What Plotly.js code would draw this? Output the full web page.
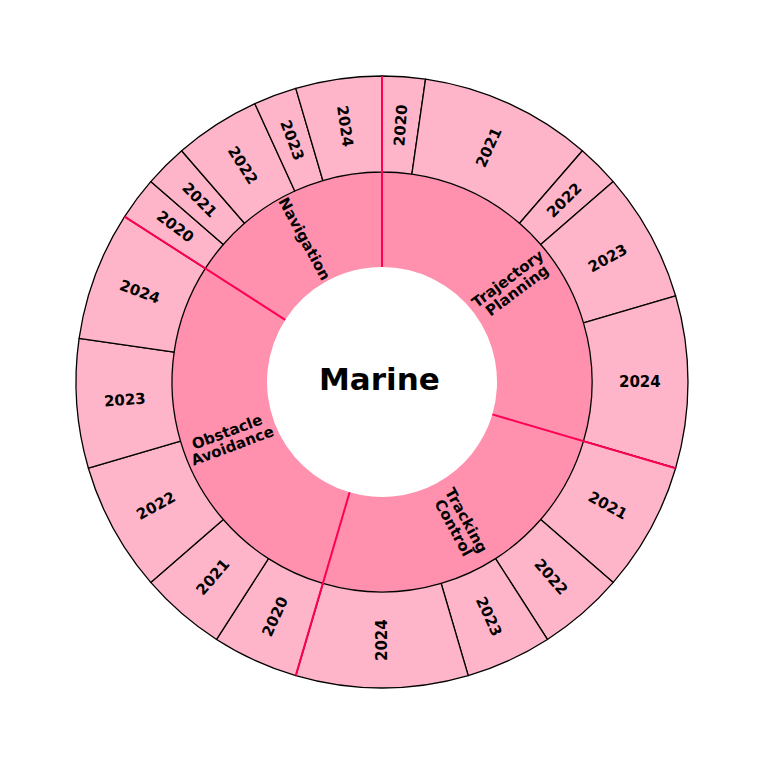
<!DOCTYPE html>
<html>
<head>
<meta charset="utf-8">
<script src="https://cdn.plot.ly/plotly-3.0.1.min.js"></script>
<style>html,body{margin:0;padding:0;background:#ffffff;}</style>
</head>
<body>
<div id="chart" style="width:761px;height:764px;"></div>
<script>
// ---------------- data ----------------
const rootLabel = 'Marine';
const categories = ['Trajectory Planning', 'Tracking Control', 'Obstacle Avoidance', 'Navigation'];
const categoryLines = [['Trajectory', 'Planning'], ['Tracking', 'Control'], ['Obstacle', 'Avoidance'], ['Navigation']];

const trajectoryYears = ['2020', '2021', '2022', '2023', '2024'];
const trajectoryCounts = [1, 4, 1, 3, 4];
const trackingYears = ['2021', '2022', '2023', '2024'];
const trackingCounts = [3, 2, 2, 4];
const obstacleYears = ['2020', '2021', '2022', '2023', '2024'];
const obstacleCounts = [2, 2, 3, 3, 3];
const navigationYears = ['2020', '2021', '2022', '2023', '2024'];
const navigationCounts = [1, 1, 2, 1, 2];

// ---------------- styles ----------------
const innerColor = '#FF91AF';
const outerColor = '#FFB5C9';
const separatorColor = '#FF0055';
const R_HOLE = 115, R_MID = 210, R_OUT = 306;
const fontFamily = 'DejaVu Sans';
const labelSize = 15;
const lineGap = 15;

// ---------------- build ----------------
const yearGroups = [
  [trajectoryYears, trajectoryCounts],
  [trackingYears, trackingCounts],
  [obstacleYears, obstacleCounts],
  [navigationYears, navigationCounts]
];
const categoryTotals = yearGroups.map(g => g[1].reduce((a, b) => a + b, 0));
const grandTotal = categoryTotals.reduce((a, b) => a + b, 0);

const outerLabels = [], outerValues = [], outerText = [];
yearGroups.forEach((g, i) => {
  g[0].forEach((y, j) => {
    outerLabels.push(categories[i] + ' ' + y);
    outerValues.push(g[1][j]);
    outerText.push(y);
  });
});

const midFrac = R_MID / R_OUT;
const innerPie = {
  type: 'pie',
  labels: categories,
  values: categoryTotals,
  textinfo: 'none',
  sort: false,
  direction: 'clockwise',
  rotation: 0,
  hole: R_HOLE / R_MID,
  marker: {colors: categories.map(() => innerColor), line: {width: 0}},
  domain: {x: [0.5 - midFrac / 2, 0.5 + midFrac / 2], y: [0.5 - midFrac / 2, 0.5 + midFrac / 2]},
  hoverinfo: 'none',
  showlegend: false
};

const outerPie = {
  type: 'pie',
  labels: outerLabels,
  values: outerValues,
  textinfo: 'none',
  sort: false,
  direction: 'clockwise',
  rotation: 0,
  hole: R_MID / R_OUT,
  marker: {colors: outerLabels.map(() => outerColor), line: {color: '#000000', width: 1.3}},
  domain: {x: [0, 1], y: [0, 1]},
  hoverinfo: 'none',
  showlegend: false
};

// helpers: paper position at radius (px) and clockwise-from-top angle (deg)
function paperPos(rPx, deg) {
  const t = deg * Math.PI / 180;
  return [0.5 + 0.5 * (rPx / R_OUT) * Math.sin(t), 0.5 + 0.5 * (rPx / R_OUT) * Math.cos(t)];
}
function radialAngle(deg) { return ((deg + 720) % 180) - 90; }

const annotations = [];
const labelFont = {family: fontFamily, size: labelSize, color: '#000000', weight: 'bold'};

// inner (category) labels
let cum = 0;
categoryTotals.forEach((t, i) => {
  const mid = (cum + t / 2) / grandTotal * 360;
  const [x, y] = paperPos((R_HOLE + R_MID) / 2, mid);
  const ang = radialAngle(mid);
  const a = ang * Math.PI / 180;
  const lines = categoryLines[i];
  lines.forEach((ln, k) => {
    const off = (k - (lines.length - 1) / 2) * lineGap;
    annotations.push({
      xref: 'paper', yref: 'paper', x: x, y: y, text: ln, showarrow: false,
      xanchor: 'center', yanchor: 'middle', textangle: ang,
      xshift: -Math.sin(a) * off, yshift: -Math.cos(a) * off,
      font: labelFont
    });
  });
  cum += t;
});

// outer (year) labels
cum = 0;
outerValues.forEach((v, i) => {
  const mid = (cum + v / 2) / grandTotal * 360;
  const [x, y] = paperPos((R_MID + R_OUT) / 2, mid);
  annotations.push({
    xref: 'paper', yref: 'paper', x: x, y: y, text: outerText[i], showarrow: false,
    xanchor: 'center', yanchor: 'middle', textangle: radialAngle(mid),
    font: labelFont
  });
  cum += v;
});

// root label
annotations.push({
  xref: 'paper', yref: 'paper', x: 0.5, y: 0.5, text: rootLabel, showarrow: false,
  xanchor: 'center', yanchor: 'middle', xshift: -3, yshift: 3,
  font: {family: fontFamily, size: 31, color: '#000000', weight: 'bold'}
});

// category separators at cumulative category boundaries
const shapes = [];
cum = 0;
categoryTotals.forEach(t => {
  const deg = cum / grandTotal * 360;
  const p0 = paperPos(R_HOLE, deg), p1 = paperPos(R_OUT, deg);
  shapes.push({
    type: 'line', xref: 'paper', yref: 'paper', layer: 'above',
    x0: p0[0], y0: p0[1], x1: p1[0], y1: p1[1],
    line: {color: separatorColor, width: 2}
  });
  cum += t;
});

const layout = {
  width: 761, height: 764,
  margin: {l: 76, r: 73, t: 76, b: 76},
  paper_bgcolor: '#ffffff',
  plot_bgcolor: '#ffffff',
  showlegend: false,
  shapes: shapes,
  annotations: annotations
};

Plotly.newPlot('chart', [innerPie, outerPie], layout, {displayModeBar: false, staticPlot: true});
</script>
</body>
</html>
